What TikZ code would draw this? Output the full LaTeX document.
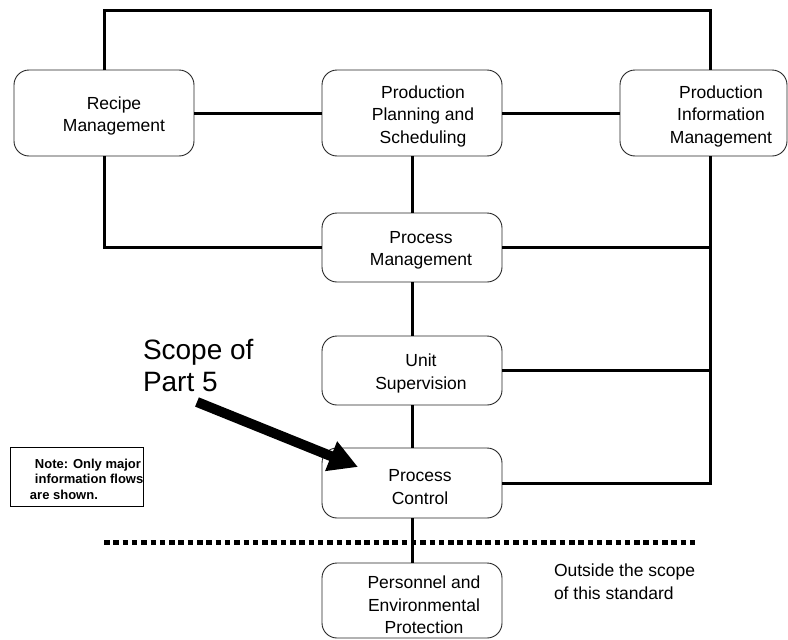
\documentclass[tikz,border=0pt]{standalone}
\usepackage{fontspec}
\setmainfont{Liberation Sans}
\usetikzlibrary{arrows.meta,calc}
\begin{document}
\begin{tikzpicture}[x=1pt,y=-1pt,
  box/.style={draw=black!85,line width=0.9pt,rounded corners=15pt,inner sep=0pt,outer sep=0pt,minimum width=180pt},
  boxtext/.style={font=\fontsize{17.5}{22.5}\selectfont,align=center,inner sep=0pt},
  link/.style={line width=3pt},
  plain/.style={inner sep=0pt,outer sep=0pt,align=left}
]
\useasboundingbox (0,0) rectangle (788,640);

% boxes
\node[box,minimum height=86pt,label={[boxtext,shift={(10pt,-3pt)}]center:Recipe\\Management}] (rec) at (104,113) {};
\node[box,minimum height=86pt,label={[boxtext,shift={(11pt,-3pt)}]center:Production\\Planning and\\Scheduling}] (pps) at (412,113) {};
\node[box,minimum height=86pt,minimum width=167pt,label={[boxtext,shift={(17.5pt,-3pt)}]center:Production\\Information\\Management}] (pim) at (703.5,113) {};
\node[box,minimum height=69pt,label={[boxtext,shift={(9pt,-3pt)}]center:Process\\Management}] (pm) at (412,247.5) {};
\node[box,minimum height=69pt,label={[boxtext,shift={(9pt,-3pt)}]center:Unit\\Supervision}] (us) at (412,370.5) {};
\node[box,minimum height=70pt,label={[boxtext,shift={(8pt,-4pt)}]center:Process\\Control}] (pc) at (412,483) {};
\node[box,minimum height=75pt,label={[boxtext,shift={(12pt,-4.5pt)}]center:Personnel and\\Environmental\\Protection}] (pers) at (412,600.5) {};

% helper coordinates
\coordinate (tr) at (710,10);
\coordinate (dl) at (104,542);
\coordinate (dr) at (697,542);
\coordinate (atail) at (197,402);
\coordinate (atip) at (358,467);

% connectors
\draw[link] (rec.north) |- (tr) -- (tr |- pim.north);
\draw[link] (rec.east) -- (pps.west);
\draw[link] (pps.east) -- (pim.west);
\draw[link] (pps.south) -- (pm.north);
\draw[link] (rec.south) |- (pm.west);
\draw[link] (pm.east) -- (pm.east -| tr);
\draw[link] (us.east) -- (us.east -| tr);
\draw[link] (tr |- pim.south) |- (pc.east);
\draw[link] (pm.south) -- (us.north);
\draw[link] (us.south) -- (pc.north);

% dotted boundary
\draw[line width=5pt,dash pattern=on 5.5pt off 3.8pt] (dl) -- (dr);
\draw[link] (pc.south) -- (pers.north);

% texts
\node[plain,anchor=north west,font=\fontsize{28}{32}\selectfont] (scope) at (143,339) {Scope of\\Part 5};
\node[plain,anchor=north west,font=\fontsize{17.5}{22.5}\selectfont] (outside) at (554,564) {Outside the scope\\of this standard};

% note
\node[draw=black,line width=0.9pt,minimum width=133pt,minimum height=59pt,inner sep=0pt,anchor=north west] (note) at (10,447) {};
\node[plain,anchor=north west,font=\bfseries\fontsize{13}{15.5}\selectfont] (notetext) at (30,459) {\hspace*{5pt}Note: Only major\\\hspace*{5pt}information flows\\are shown.};

% scope arrow
\draw[line width=10pt,-{Triangle[length=29pt,width=30pt]}] (atail) -- (atip);
\end{tikzpicture}
\end{document}
